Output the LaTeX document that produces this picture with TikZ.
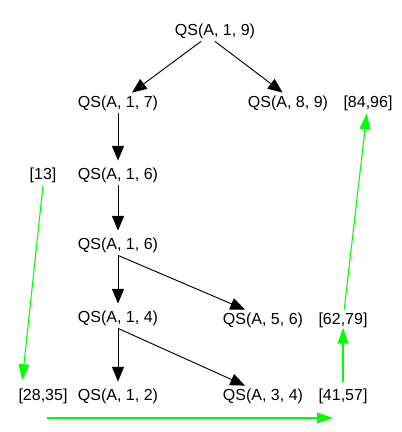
\documentclass[tikz,border=0pt]{standalone}
\usepackage{fontspec}
\setmainfont{Liberation Sans}
\usepackage{tikz}
\usetikzlibrary{arrows.meta}

\definecolor{brightgreen}{RGB}{0,255,0}

\tikzset{
    call/.style={inner sep=2pt, font=\fontsize{12}{14}\selectfont},
    res/.style={inner sep=2pt, font=\fontsize{12}{14}\selectfont},
    recur/.style={-{Triangle[length=11pt,width=9pt]}, line width=0.7pt},
    merge/.style={-{Triangle[length=12pt,width=8pt]}, draw=brightgreen, line width=0.8pt}
}

\begin{document}
\begin{tikzpicture}[x=0.75pt, y=-0.75pt]
        \useasboundingbox (0,0) rectangle (402,432);

        \node[call] (qs19) at (215,31) {QS(A, 1, 9)};
        \node[call] (qs17) at (118,103) {QS(A, 1, 7)};
        \node[call] (qs89) at (288,103) {QS(A, 8, 9)};
        \node[call] (qs16a) at (118,175) {QS(A, 1, 6)};
        \node[call] (qs16b) at (118,245) {QS(A, 1, 6)};
        \node[call] (qs14) at (118,318) {QS(A, 1, 4)};
        \node[call] (qs56) at (263,320) {QS(A, 5, 6)};
        \node[call] (qs12) at (118,396) {QS(A, 1, 2)};
        \node[call] (qs34) at (263,396) {QS(A, 3, 4)};

        \node[res] (r8496) at (368,103) {[84,96]};
        \node[res] (r13) at (43,175) {[13]};
        \node[res] (r6279) at (343,320) {[62,79]};
        \node[res] (r2835) at (43,396) {[28,35]};
        \node[res] (r4157) at (343,396) {[41,57]};

        \coordinate (under2835) at (47,418);
        \coordinate (under4157) at (333,418);

        % recursive calls
        \draw[recur] (qs19) -- (qs17);
        \draw[recur] (qs19.south) -- ([xshift=-4pt]qs89.north);
        \draw[recur] (qs17.south) -- ([yshift=3pt]qs16a.north);
        \draw[recur] (qs16a.south) -- ([yshift=3pt]qs16b.north);
        \draw[recur] (qs16b.south) -- ([yshift=3pt]qs14.north);
        \draw[recur] (qs16b.south) -- (qs56.150);
        \draw[recur] (qs14.south) -- ([yshift=3pt]qs12.north);
        \draw[recur] (qs14.south) -- (qs34.150);

        % merged results
        \draw[merge] (r13.south) -- ([xshift=5pt,yshift=4pt]r2835.north west);
        \draw[merge, line width=1.2pt] (under2835) -- (under4157);
        \draw[merge, line width=1.2pt] ([yshift=3pt]r4157.north) -- ([yshift=2pt]r6279.south);
        \draw[merge] (r6279) -- (r8496);
    \end{tikzpicture}
\end{document}
